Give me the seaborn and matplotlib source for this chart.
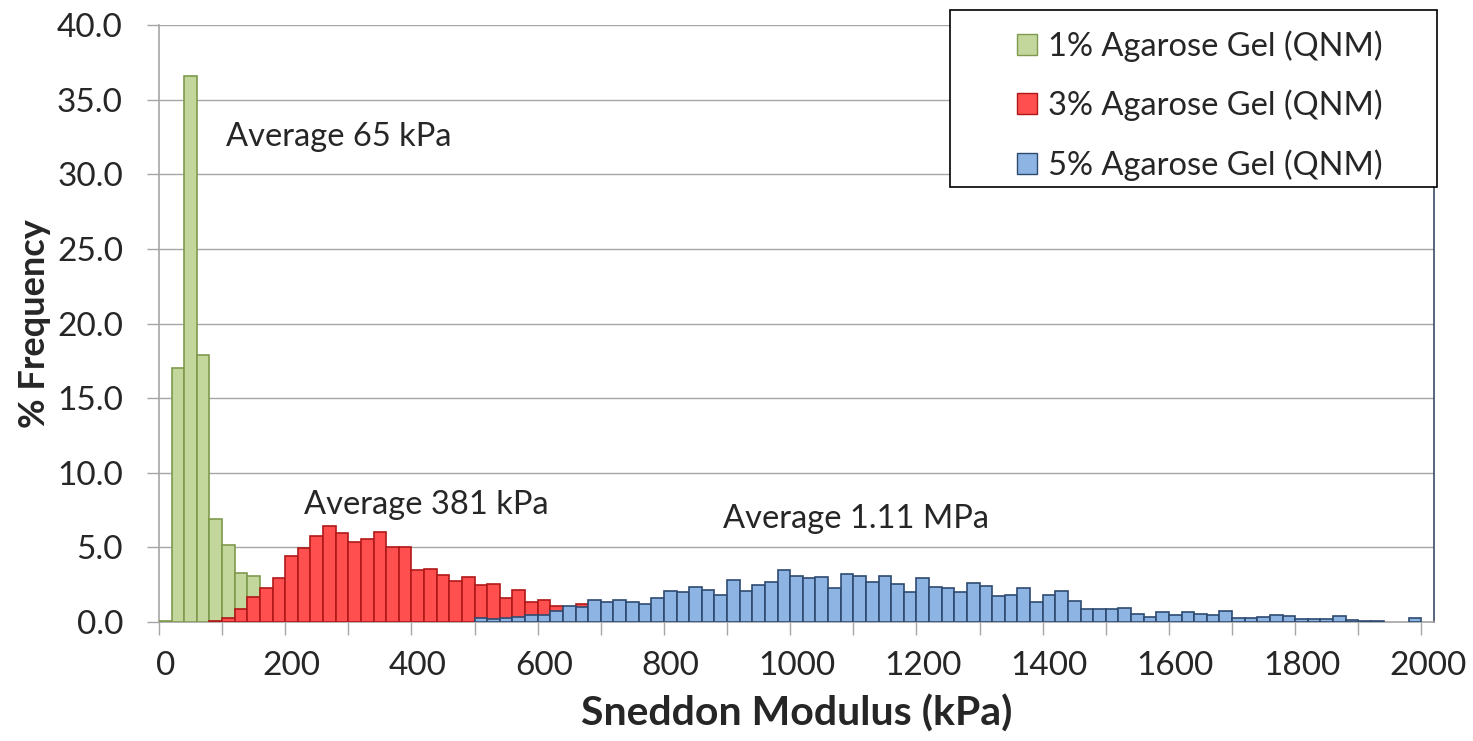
import numpy as np
import pandas as pd
import matplotlib
matplotlib.use("Agg")
import matplotlib.pyplot as plt
from matplotlib.patches import Patch, Rectangle
from matplotlib.ticker import FixedLocator
import seaborn as sns

# ---- data ----
categories = [str(20 * i) for i in range(101)]  # Sneddon modulus bins (kPa)

green_start = 0
green_vals = [0.08, 17.0, 36.6, 17.9, 6.92, 5.15, 3.28, 3.08]

red_start = 4
red_vals = [0.10, 0.27, 0.87, 1.67, 2.28, 2.95, 4.44, 4.95, 5.74, 6.41,
            5.96, 5.33, 5.56, 6.03, 5.02, 5.02, 3.50, 3.57, 3.12, 2.77,
            2.99, 2.48, 2.57, 1.63, 2.12, 1.34, 1.47, 1.05, 0.95, 1.18, 0.80]

blue_start = 25
blue_vals = [0.27, 0.20, 0.27, 0.35, 0.44, 0.44, 0.71, 1.05, 0.98, 1.45,
             1.34, 1.47, 1.34, 1.18, 1.63, 2.05, 1.98, 2.34, 2.14, 1.83,
             2.79, 2.05, 2.50, 2.70, 3.50, 3.08, 2.95, 2.99, 2.28, 3.24,
             3.08, 2.70, 3.08, 2.57, 2.01, 2.92, 2.34, 2.28, 2.01, 2.59,
             2.41, 1.76, 1.83, 2.28, 1.34, 1.83, 2.05, 1.41, 0.87, 0.87,
             0.87, 0.96, 0.54, 0.31, 0.67, 0.44, 0.67, 0.54, 0.44, 0.76,
             0.27, 0.27, 0.36, 0.44, 0.37, 0.20, 0.20, 0.20, 0.37, 0.12,
             0.10, 0.10, 0.0, 0.0, 0.27]

series_names = ["1% Agarose Gel (QNM)", "3% Agarose Gel (QNM)", "5% Agarose Gel (QNM)"]
fill_colors = ["#C3D69B", "#FF4F4F", "#8DB4E2"]
edge_colors = ["#7F9A4E", "#B01818", "#2E4A70"]

annotations = [("Average 65 kPa", 4.8, 32.5),
               ("Average 381 kPa", 10.98, 7.86),
               ("Average 1.11 MPa", 44.2, 6.92)]

x_tick_labels = [str(v) for v in range(0, 2001, 200)]
y_ticks = np.arange(0, 40.1, 5)

# ---- build frames ----
def make_df(start, vals):
    rows = [(categories[start + i], v) for i, v in enumerate(vals) if v > 0]
    return pd.DataFrame(rows, columns=["bin", "freq"])

dfs = [make_df(green_start, green_vals), make_df(red_start, red_vals),
       make_df(blue_start, blue_vals)]

sns.set_style("white")
plt.rcParams["font.family"] = ["Lato", "DejaVu Sans"]

W, H = 1473, 741
fig = plt.figure(figsize=(W / 100, H / 100), dpi=100)
ax = fig.add_axes([159 / W, 1 - 622 / H, (1434 - 159) / W, (622 - 25) / H])

for df, fc, ec in zip(dfs, fill_colors, edge_colors):
    sns.barplot(data=df, x="bin", y="freq", order=categories, color=fc,
                width=1.0, edgecolor=ec, linewidth=1.2, saturation=1,
                errorbar=None, ax=ax, zorder=3)

ax.set_xlim(-0.5, 100.5)
ax.set_ylim(0, 40)

# y axis
ax.set_yticks(y_ticks)
ax.set_yticklabels([f"{v:.1f}" for v in y_ticks])
ax.yaxis.grid(True, color="#A6A6A6", linewidth=1.0, zorder=0)
ax.set_axisbelow(True)
ax.tick_params(axis="y", which="major", direction="out", length=9, width=1,
               color="#A6A6A6", pad=17, labelsize=24, left=True)

# x axis: labels at category centers, tick marks at boundaries every 5 bins
ax.set_xticks(np.arange(0, 101, 10))
ax.set_xticklabels(x_tick_labels)
ax.xaxis.set_minor_locator(FixedLocator(np.arange(-0.5, 101, 5)))
ax.tick_params(axis="x", which="major", length=0, pad=21, labelsize=24, bottom=True)
ax.tick_params(axis="x", which="minor", direction="out", length=9, width=1,
               color="#A6A6A6", bottom=True)

for s in ["left", "bottom"]:
    ax.spines[s].set_color("#A6A6A6")
    ax.spines[s].set_linewidth(1.2)
ax.spines["top"].set_visible(False)
ax.spines["right"].set_color("#3B4A63")
ax.spines["right"].set_linewidth(1.2)

ax.set_xlabel("Sneddon Modulus (kPa)", fontsize=29.5, fontweight="bold")
ax.set_ylabel("% Frequency", fontsize=26, fontweight="bold")
ax.xaxis.set_label_coords(0.5, -0.153)
ax.xaxis.label.set_va("center")
ax.yaxis.set_label_coords(-0.0973, 0.5)
ax.yaxis.label.set_va("center")

for txt, x, y in annotations:
    ax.text(x, y, txt, ha="left", va="center", fontsize=23.5, zorder=5)

# legend box (fixed size, as in the reference)
box = Rectangle((950 / W, 1 - 187 / H), (1437 - 950) / W, (187 - 10) / H,
                transform=fig.transFigure, facecolor="white", edgecolor="black",
                linewidth=1.2, zorder=3)
fig.add_artist(box)

handles = [Patch(facecolor=fc, edgecolor=ec, linewidth=1.0, label=name)
           for name, fc, ec in zip(series_names, fill_colors, edge_colors)]
leg = fig.legend(handles=handles, loc="upper left",
                 bbox_to_anchor=(1017 / W, 1 - 30 / H),
                 fontsize=23.5, frameon=False,
                 handlelength=0.61, handleheight=0.61,
                 handletextpad=0.34, labelspacing=0.86, borderpad=0,
                 borderaxespad=0)
leg.set_zorder(5)

fig.savefig("out.png", dpi=100)
